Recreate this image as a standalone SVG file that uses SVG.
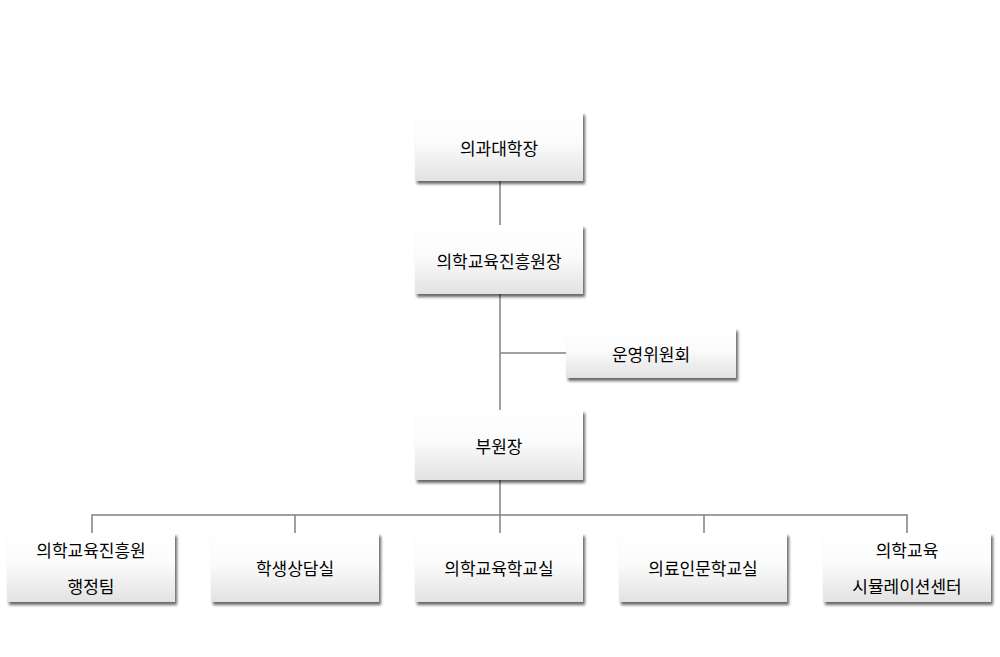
<svg xmlns="http://www.w3.org/2000/svg" width="1000" height="657" viewBox="0 0 1000 657">
<defs>
<linearGradient id="g" x1="0" y1="0" x2="0" y2="1">
<stop offset="0" stop-color="#ffffff"/>
<stop offset="0.45" stop-color="#fbfbfb"/>
<stop offset="1" stop-color="#e2e2e2"/>
</linearGradient>
<filter id="sh" x="-10%" y="-10%" width="130%" height="140%">
<feGaussianBlur in="SourceAlpha" stdDeviation="1.8"/>
<feOffset dx="2" dy="3" result="b"/>
<feComponentTransfer><feFuncA type="linear" slope="0.6"/></feComponentTransfer>
<feMerge><feMergeNode/><feMergeNode in="SourceGraphic"/></feMerge>
</filter>
</defs>
<style>
.box{fill:url(#g);filter:url(#sh);}
.t{font-family:"Noto Sans CJK KR","Noto Sans",sans-serif;font-size:17px;fill:#000;text-anchor:middle;dominant-baseline:central;}
.c{stroke:#808080;stroke-width:1.5;fill:none;}
</style>
<rect width="1000" height="657" fill="#fff"/>
<g id="connectors">
<line class="c" x1="500" y1="181" x2="500" y2="225"/>
<line class="c" x1="500" y1="294" x2="500" y2="410"/>
<line class="c" x1="500" y1="353" x2="566" y2="353"/>
<line class="c" x1="500" y1="480" x2="500" y2="533"/>
<path class="c" d="M92,533 V515 H907 V533"/>
<line class="c" x1="295" y1="515" x2="295" y2="533"/>
<line class="c" x1="704" y1="515" x2="704" y2="533"/>
</g>
<g id="dean"><rect class="box" x="415" y="112" width="168" height="69"/><text class="t" x="499" y="147">의과대학장</text></g>
<g id="director"><rect class="box" x="415" y="225" width="168" height="69"/><text class="t" x="499" y="260">의학교육진흥원장</text></g>
<g id="committee"><rect class="box" x="566" y="328" width="170" height="50"/><text class="t" x="651" y="353">운영위원회</text></g>
<g id="vice"><rect class="box" x="415" y="410" width="168" height="70"/><text class="t" x="499" y="445">부원장</text></g>
<g id="admin"><rect class="box" x="7" y="533" width="168" height="69"/><text class="t" x="91" y="549">의학교육진흥원</text><text class="t" x="91" y="585">행정팀</text></g>
<g id="counsel"><rect class="box" x="211" y="533" width="168" height="69"/><text class="t" x="295" y="567">학생상담실</text></g>
<g id="meded"><rect class="box" x="415" y="533" width="168" height="69"/><text class="t" x="499" y="567">의학교육학교실</text></g>
<g id="humanities"><rect class="box" x="619" y="533" width="168" height="69"/><text class="t" x="703" y="567">의료인문학교실</text></g>
<g id="sim"><rect class="box" x="823" y="533" width="168" height="69"/><text class="t" x="907" y="549">의학교육</text><text class="t" x="907" y="585">시뮬레이션센터</text></g>
</svg>
